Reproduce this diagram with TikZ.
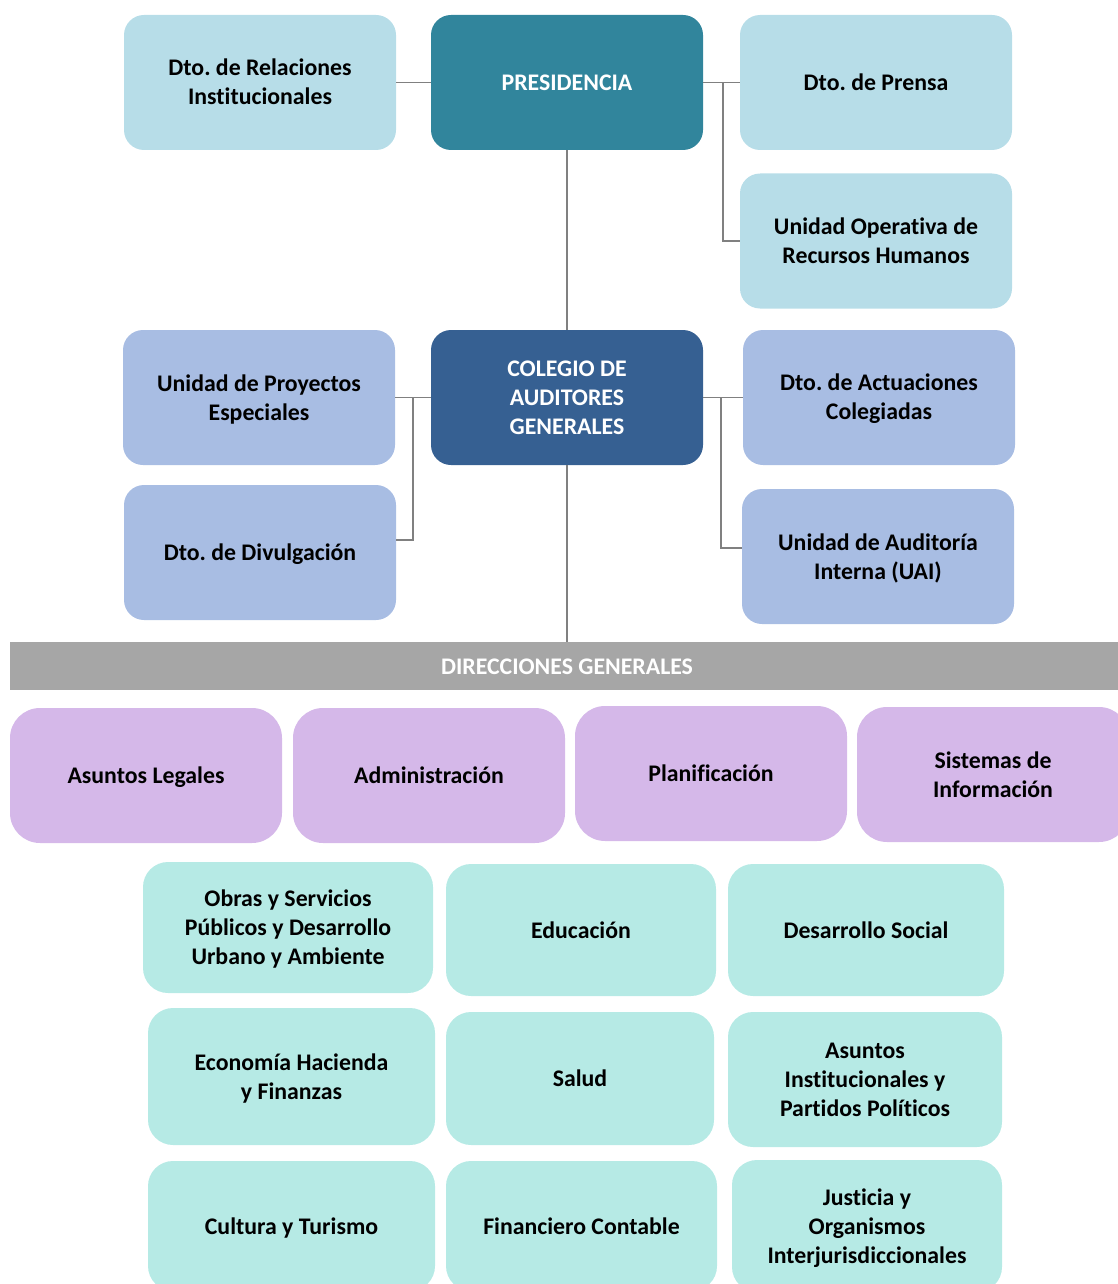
\documentclass[tikz,border=0pt]{standalone}
\usepackage{fontspec}
\setmainfont{Carlito}[Ligatures=NoCommon]
\usepackage{tikz}
\frenchspacing
\definecolor{celeste}{HTML}{B7DDE8}
\definecolor{presid}{HTML}{31859C}
\definecolor{colegio}{HTML}{366092}
\definecolor{lavanda}{HTML}{A8BDE3}
\definecolor{lila}{HTML}{D5B8E9}
\definecolor{aqua}{HTML}{B6EAE5}
\definecolor{barra}{HTML}{A6A6A6}
\definecolor{linea}{HTML}{808080}
\tikzset{
  unit/.style={rounded corners=20pt, align=center, inner sep=0pt,
    font=\bfseries\fontsize{23.8}{29}\selectfont,
    minimum width=272pt, minimum height=135pt},
  light/.style={unit, fill=celeste},
  top/.style={unit, fill=presid, text=white},
  board/.style={unit, fill=colegio, text=white},
  staff/.style={unit, fill=lavanda},
  gen/.style={unit, fill=lila, rounded corners=30pt},
  area/.style={unit, fill=aqua, rounded corners=25pt},
  bar/.style={unit, rounded corners=0pt, fill=barra, text=white,
    minimum width=1114pt, minimum height=48pt},
  edge/.style={draw=linea, line width=1.5pt}
}
\newcommand{\orgnode}[5]{\node[#1] (#2) at ( #3 , #4 ) {\rule{0pt}{20pt}#5\rule[-4pt]{0pt}{4pt}};}

\begin{document}
\begin{tikzpicture}[x=1pt,y=-1pt]
        \useasboundingbox (0,0) rectangle (1118,1284);
        %nodes
        \orgnode{light}{relinst}{260}{82.5}{Dto. de Relaciones\\Institucionales}
        \orgnode{top}{pres}{567}{82.5}{PRESIDENCIA}
        \orgnode{light}{prensa}{876}{82.5}{Dto. de Prensa}
        \orgnode{light}{rrhh}{876}{241}{Unidad Operativa de\\Recursos Humanos}
        \orgnode{staff}{proy}{259}{397.5}{Unidad de Proyectos\\Especiales}
        \orgnode{board}{cag}{567}{397.5}{COLEGIO DE\\AUDITORES\\GENERALES}
        \orgnode{staff}{actu}{879}{397.5}{Dto. de Actuaciones\\Colegiadas}
        \orgnode{staff}{divul}{260}{552.5}{Dto. de Divulgación}
        \orgnode{staff}{uai}{878}{556.5}{Unidad de Auditoría\\Interna (UAI)}
        \orgnode{bar}{dirgen}{567}{666}{DIRECCIONES GENERALES}
        \orgnode{gen}{legal}{146}{775.5}{Asuntos Legales}
        \orgnode{gen}{admin}{429}{775.5}{Administración}
        \orgnode{gen}{plan}{711}{773.5}{Planificación}
        \orgnode{gen}{sist}{993}{774.5}{Sistemas de\\Información}
        \orgnode{area, minimum width=290pt, minimum height=131pt}{obras}{288}{927.5}{Obras y Servicios\\Públicos y Desarrollo\\Urbano y Ambiente}
        \orgnode{area, minimum width=270pt, minimum height=132pt}{educ}{581}{930}{Educación}
        \orgnode{area, minimum width=276pt, minimum height=132pt}{social}{866}{930}{Desarrollo Social}
        \orgnode{area, minimum width=287pt, minimum height=137pt}{econ}{291.5}{1076.5}{Economía Hacienda\\y Finanzas}
        \orgnode{area, minimum width=268pt, minimum height=133pt}{salud}{580}{1078.5}{Salud}
        \orgnode{area, minimum width=274pt, minimum height=135pt}{inst}{865}{1079.5}{Asuntos\\Institucionales y\\Partidos Políticos}
        \orgnode{area, minimum width=287pt, minimum height=130pt}{cult}{291.5}{1226}{Cultura y Turismo}
        \orgnode{area, minimum width=271pt, minimum height=130pt}{finan}{581.5}{1226}{Financiero Contable}
        \orgnode{area, minimum width=270pt, minimum height=132pt}{just}{867}{1226}{Justicia y\\Organismos\\Interjurisdiccionales}
        %edges
        \coordinate (presR) at (723,82.5);
        \coordinate (cagL) at (413,397.5);
        \coordinate (cagR) at (721,397.5);
        \draw[edge] (relinst) -- (pres);
        \draw[edge] (pres) -- (prensa);
        \draw[edge] (presR) |- (rrhh.west);
        \draw[edge] (pres) -- (cag);
        \draw[edge] (proy) -- (cag);
        \draw[edge] (cagL) |- ([yshift=12.5pt]divul.east);
        \draw[edge] (cag) -- (actu);
        \draw[edge] (cagR) |- ([yshift=8.5pt]uai.west);
        \draw[edge] (cag) -- (dirgen);
\end{tikzpicture}
\end{document}
